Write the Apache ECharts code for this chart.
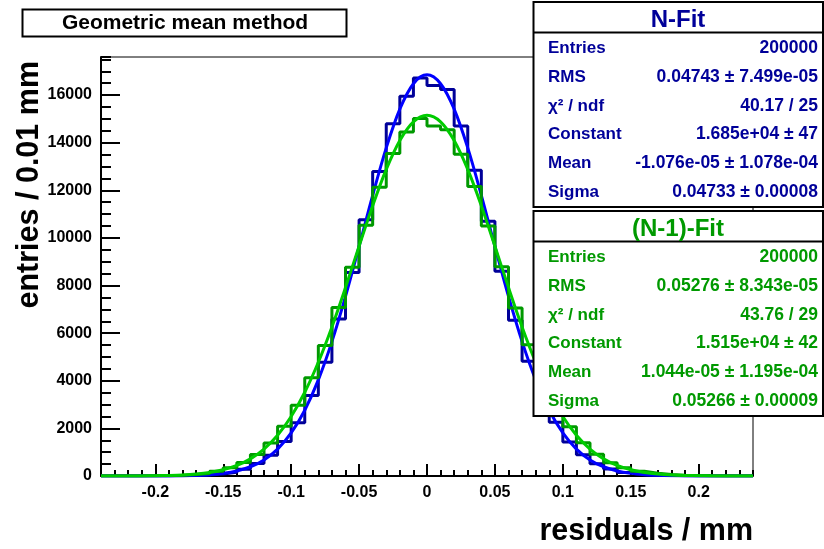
<!DOCTYPE html>
<html><head><meta charset="utf-8">
<script src="https://cdn.jsdelivr.net/npm/echarts@6/dist/echarts.min.js"></script>
<style>html,body{margin:0;padding:0;background:#fff}#c{width:824px;height:549px}</style>
</head><body><div id="c"></div>
<script>
// ---- data ----
const binEdges = [-0.24,-0.23,-0.22,-0.21,-0.20,-0.19,-0.18,-0.17,-0.16,-0.15,-0.14,-0.13,-0.12,-0.11,-0.10,-0.09,-0.08,-0.07,-0.06,-0.05,-0.04,-0.03,-0.02,-0.01,0,
  0.01,0.02,0.03,0.04,0.05,0.06,0.07,0.08,0.09,0.10,0.11,0.12,0.13,0.14,0.15,0.16,0.17,0.18,0.19,0.20,0.21,0.22,0.23,0.24];
const nFitCounts = [0,0,0,1,3,8,19,38,82,152,286,520,875,1450,2240,3380,4780,6590,8550,10760,12790,14800,15950,16720,
  16400,16230,14700,12840,10700,8600,6540,4820,3350,2260,1430,890,510,292,150,78,40,17,8,3,1,0,0,0];
const n1FitCounts = [1,2,4,8,17,31,62,110,198,345,565,905,1390,2085,2970,4130,5480,7080,8770,10530,12130,13550,14450,15020,
  14700,14540,13520,12160,10500,8790,7060,5510,4110,2990,2070,1400,910,560,345,196,114,60,33,16,8,4,2,1];
const nFitCurve = [0,0,0,1,2,5,12,27,56,111,212,388,677,1131,1808,2763,4038,5644,7544,9644,11789,13783,15411,16478,16850,
  16478,15411,13783,11789,9644,7544,5644,4038,2763,1808,1131,677,388,212,111,56,27,12,5,2,1,0,0,0];
const n1FitCurve = [0,1,2,5,11,23,44,83,150,262,442,719,1129,1710,2497,3517,4778,6262,7916,9653,11353,12881,14096,14879,15150,
  14879,14096,12881,11353,9653,7916,6262,4778,3517,2497,1710,1129,719,442,262,150,83,44,23,11,5,2,1,0];
const nFitStats = [['Entries','200000'],['RMS','0.04743 ± 7.499e-05'],['χ² / ndf','40.17 / 25'],
  ['Constant','1.685e+04 ± 47'],['Mean','-1.076e-05 ± 1.078e-04'],['Sigma','0.04733 ± 0.00008']];
const n1FitStats = [['Entries','200000'],['RMS','0.05276 ± 8.343e-05'],['χ² / ndf','43.76 / 29'],
  ['Constant','1.515e+04 ± 42'],['Mean','1.044e-05 ± 1.195e-04'],['Sigma','0.05266 ± 0.00009']];
const titleText = 'Geometric mean method';
const xTitle = 'residuals / mm';
const yTitle = 'entries / 0.01 mm';

// ---- build ----
const FONT = '"Liberation Sans", Arial, Helvetica, sans-serif';
const BLUE_H = '#000099', BLUE_F = '#0000ff', GREEN_H = '#009900', GREEN_F = '#00cc00';

function histPoints(counts){
  const pts = [];
  for (let i = 0; i < counts.length; i++) pts.push([binEdges[i], counts[i]]);
  pts.push([binEdges[counts.length], counts[counts.length - 1]]);
  return pts;
}
function curvePoints(vals){ return vals.map((v, i) => [binEdges[i], v]); }

function txt(x, y, text, opt){
  const s = Object.assign({text: text, fontFamily: FONT, fontWeight: 'bold', fontSize: 17, fill: '#000',
    align: 'left', verticalAlign: 'middle'}, opt || {});
  s.textAlign = s.align; s.textVerticalAlign = s.verticalAlign;
  return {type: 'text', x: x, y: y, z: 102, style: s};
}
function statsBox(top, header, rows, color){
  const els = [];
  els.push({type: 'rect', z: 100, shape: {x: 533.5, y: top, width: 289.5, height: 205},
    style: {fill: '#fff', stroke: '#000', lineWidth: 2}});
  els.push({type: 'line', z: 101, shape: {x1: 533.5, y1: top + 30.5, x2: 823, y2: top + 30.5},
    style: {stroke: '#000', lineWidth: 2}});
  els.push(txt(678, top + 18, header, {fill: color, fontSize: 24, align: 'center'}));
  rows.forEach((r, i) => {
    const y = top + 46.5 + i * 28.7;
    els.push(txt(548, y, r[0], {fill: color}));
    els.push(txt(818, y, r[1], {fill: color, align: 'right', fontSize: 17.5}));
  });
  return els;
}

const graphics = [];
graphics.push({type: 'rect', z: 100, shape: {x: 22.5, y: 9.5, width: 324, height: 27},
  style: {fill: '#fff', stroke: '#000', lineWidth: 2}});
graphics.push(txt(185, 23.5, titleText, {fontSize: 21, align: 'center'}));
graphics.push(txt(753, 532, xTitle, {fontSize: 30.5, align: 'right'}));
graphics.push({type: 'text', x: 30, y: 61, rotation: Math.PI / 2, z: 102,
  style: {text: yTitle, fontFamily: FONT, fontWeight: 'bold', fontSize: 30.5, fill: '#000',
    align: 'right', verticalAlign: 'middle', textAlign: 'right', textVerticalAlign: 'middle'}});
graphics.push(...statsBox(2, 'N-Fit', nFitStats, BLUE_H));
graphics.push(...statsBox(211, '(N-1)-Fit', n1FitStats, GREEN_H));

const labelStyle = {fontFamily: FONT, fontWeight: 'bold', fontSize: 16, color: '#000'};

const option = {
  animation: false,
  backgroundColor: '#fff',
  grid: {left: 101, right: 71, top: 57, bottom: 73, show: true, borderColor: '#000', borderWidth: 1, backgroundColor: '#fff'},
  xAxis: [
    {type: 'value', min: -0.24, max: 0.24, splitNumber: 10, position: 'bottom',
      axisLine: {show: true, onZero: false, lineStyle: {color: '#000', width: 2}},
      axisTick: {show: true, inside: true, length: 12, lineStyle: {color: '#000', width: 2}},
      axisLabel: Object.assign({margin: 9, showMinLabel: false, showMaxLabel: false,
        formatter: v => String(Math.round(v * 100) / 100)}, labelStyle),
      splitLine: {show: false}},
    {type: 'value', min: -0.24, max: 0.24, interval: 0.01, position: 'bottom',
      axisLine: {show: false, onZero: false}, axisLabel: {show: false}, splitLine: {show: false},
      axisTick: {show: true, inside: true, length: 6, lineStyle: {color: '#000', width: 2}}}
  ],
  yAxis: [
    {type: 'value', min: 0, max: 17600, interval: 2000, position: 'left',
      axisLine: {show: true, onZero: false, lineStyle: {color: '#000', width: 2}},
      axisTick: {show: true, inside: true, length: 19, lineStyle: {color: '#000', width: 2}},
      axisLabel: Object.assign({margin: 9, showMaxLabel: false, formatter: v => String(v)}, labelStyle),
      splitLine: {show: false}},
    {type: 'value', min: 0, max: 17600, interval: 500, position: 'left',
      axisLine: {show: false, onZero: false}, axisLabel: {show: false}, splitLine: {show: false},
      axisTick: {show: true, inside: true, length: 10, lineStyle: {color: '#000', width: 2}}}
  ],
  series: [
    {type: 'line', step: 'end', data: histPoints(nFitCounts), symbol: 'none',
      lineStyle: {color: BLUE_H, width: 3}, z: 3},
    {type: 'line', smooth: 0.35, data: curvePoints(nFitCurve), symbol: 'none',
      lineStyle: {color: BLUE_F, width: 3}, z: 4},
    {type: 'line', step: 'end', data: histPoints(n1FitCounts), symbol: 'none',
      lineStyle: {color: GREEN_H, width: 3}, z: 5},
    {type: 'line', smooth: 0.35, data: curvePoints(n1FitCurve), symbol: 'none',
      lineStyle: {color: GREEN_F, width: 3}, z: 6}
  ],
  graphic: {elements: graphics}
};
const chart = echarts.init(document.getElementById('c'));
chart.setOption(option);
</script>
</body></html>
